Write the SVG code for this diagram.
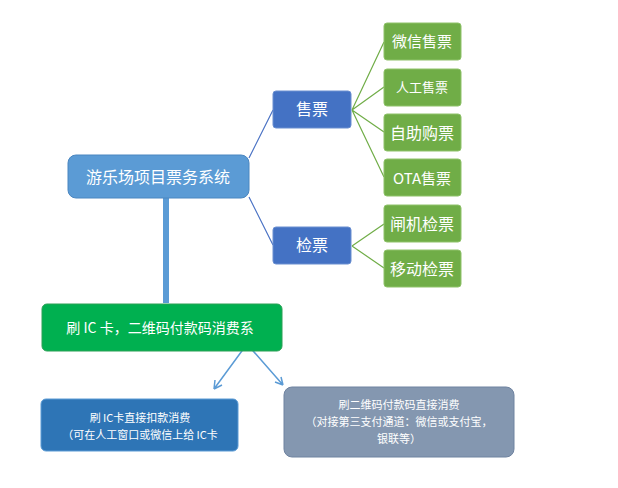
<svg xmlns="http://www.w3.org/2000/svg" width="618" height="488" viewBox="0 0 618 488">
<style>
text{font-family:"Noto Sans CJK SC","Liberation Sans",sans-serif;fill:#fff;text-anchor:middle}
.g rect{fill:#70ad47;stroke:#8fc26a;stroke-width:1}
.b rect{fill:#4472c4;stroke:#6a8fd0}
.ar{fill:none;stroke:#5b9bd5;stroke-width:1.5}
</style>
<rect width="618" height="488" fill="#fff"/>
<g id="connectors" fill="none">
<path d="M249,158 L273,110 M249,197 L273,245" stroke="#4a72c4" stroke-width="1.2"/>
<path d="M352,110 L384,42 M352,110 L384,87 M352,110 L384,132 M352,110 L384,177 M352,246 L384,224 M352,246 L384,268" stroke="#70ad47" stroke-width="1.2"/>
<path d="M166,198 L166,303" stroke="#5b9bd5" stroke-width="6"/>
<path class="ar" d="M247,344 L214,389 M214,389 L215,380 M214,389 L222,385"/>
<path class="ar" d="M247,344 L283,385 M283,385 L275,382 M283,385 L281,377"/>
</g>
<g id="root"><rect x="68" y="155" width="181" height="43" rx="8" fill="#5b9bd5" stroke="#4a86c0"/><text x="158" y="183" font-size="16">游乐场项目票务系统</text></g>
<g id="sell" class="b"><rect x="273" y="91" width="78" height="37" rx="3"/><text x="312" y="115" font-size="16">售票</text></g>
<g id="check" class="b"><rect x="273" y="227" width="78" height="37" rx="3"/><text x="312" y="251" font-size="16">检票</text></g>
<g id="n1" class="g"><rect x="384" y="23" width="77" height="37" rx="3"/><text x="422" y="47" font-size="15">微信售票</text></g>
<g id="n2" class="g"><rect x="384" y="69" width="77" height="37" rx="3"/><text x="422" y="92" font-size="13">人工售票</text></g>
<g id="n3" class="g"><rect x="384" y="114" width="77" height="37" rx="3"/><text x="422" y="139" font-size="16">自助购票</text></g>
<g id="n4" class="g"><rect x="384" y="159" width="77" height="37" rx="3"/><text x="422" y="184" font-size="15">OTA售票</text></g>
<g id="n5" class="g"><rect x="384" y="205" width="77" height="37" rx="3"/><text x="422" y="230" font-size="16">闸机检票</text></g>
<g id="n6" class="g"><rect x="384" y="250" width="77" height="37" rx="3"/><text x="422" y="275" font-size="16">移动检票</text></g>
<g id="pay"><rect x="42" y="304" width="240" height="47" rx="5" fill="#00b050" stroke="#2aa055"/><text x="160" y="333" font-size="14">刷 IC 卡，二维码付款码消费系</text></g>
<g id="ic"><rect x="41" y="399" width="197" height="52" rx="5" fill="#2e75b6" stroke="#5b9bd5"/><text x="140" y="422" font-size="11">刷 IC卡直接扣款消费</text><text x="140" y="439" font-size="11">（可在人工窗口或微信上给 IC卡</text></g>
<g id="qr"><rect x="284" y="387" width="230" height="70" rx="8" fill="#8497b0" stroke="#6f83a0"/><text x="399" y="409" font-size="11">刷二维码付款码直接消费</text><text x="399" y="426" font-size="11">（对接第三支付通道：微信或支付宝，</text><text x="399" y="443" font-size="11">银联等）</text></g>
</svg>
